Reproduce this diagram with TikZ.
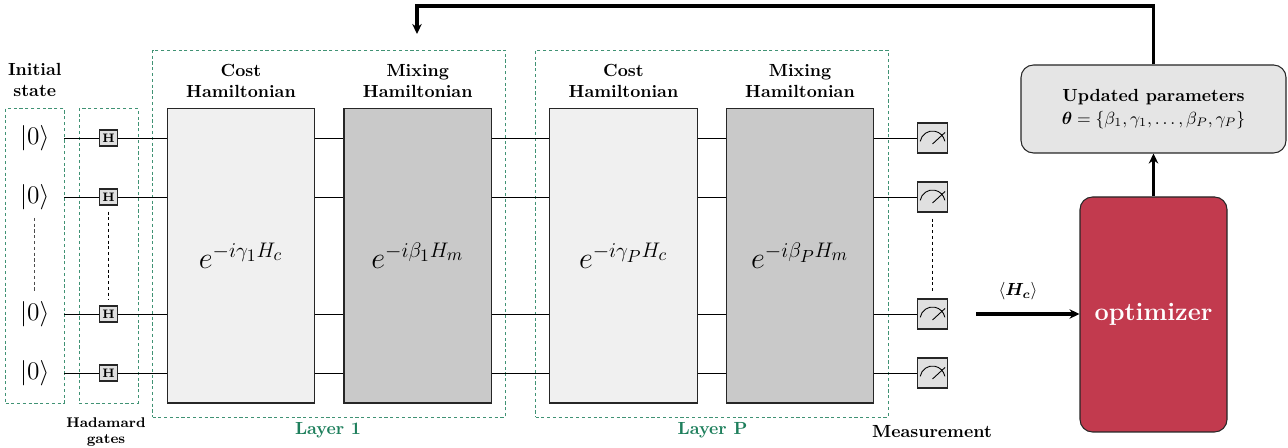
\documentclass[tikz,border=0pt]{standalone}
\usepackage{amsmath}
\usetikzlibrary{positioning,arrows.meta,calc}
\definecolor{layergreen}{HTML}{1E7F5C}
\definecolor{optred}{HTML}{C23A4E}
\tikzset{
  grp/.style={draw=layergreen!85, dash pattern=on 1.8pt off 1.5pt, line width=0.55pt, inner sep=0pt},
  costblk/.style={draw=black!85, fill=black!6, line width=0.7pt, minimum width=2.95cm, minimum height=5.89cm,
                  inner sep=0pt, font=\LARGE},
  mixblk/.style={costblk, fill=black!21},
  hgate/.style={draw=black!85, fill=black!12, line width=0.6pt, minimum width=0.37cm, minimum height=0.32cm,
                inner sep=0pt, font=\scriptsize\bfseries},
  meterblk/.style={draw=black!85, fill=black!12, line width=0.6pt, minimum size=0.6cm, inner sep=0pt},
  ketnd/.style={minimum width=1.17cm, minimum height=0.82cm, inner sep=0pt, font=\Large},
  ttl/.style={align=center, font=\bfseries, inner sep=0pt},
  wire/.style={line width=0.55pt},
  dotline/.style={dash pattern=on 1.8pt off 1.5pt, line width=0.5pt},
  flow/.style={-{Stealth[length=2mm,width=1.9mm]}, line width=1.8pt},
}

\begin{document}
\begin{tikzpicture}
    \useasboundingbox (0,0) rectangle (25.76,8.96);
    % dashed groups
    \node[grp, minimum width=1.17cm, minimum height=5.89cm] (initgrp) at (0.695,3.845) {};
    \node[grp, minimum width=1.18cm, minimum height=5.89cm] (hadgrp) at (2.17,3.845) {};
    \node[grp, minimum width=7.06cm, minimum height=7.34cm] (layerA) at (6.58,4.29) {};
    \node[grp, minimum width=7.05cm, minimum height=7.34cm] (layerB) at (14.235,4.29) {};
    % blocks
    \node[costblk] (costA) at (4.82,3.845) {$e^{-i\gamma_1 H_c}$};
    \node[mixblk] (mixA) at (8.355,3.845) {$e^{-i\beta_1 H_m}$};
    \node[costblk] (costB) at (12.47,3.845) {$e^{-i\gamma_P H_c}$};
    \node[mixblk] (mixB) at (16.0,3.845) {$e^{-i\beta_P H_m}$};
    % qubit lines
    \foreach \i/\y in {1/6.2,2/5.02,3/2.68,4/1.5} {
      \node[ketnd] (ket\i) at (0.695,\y) {$|0\rangle$};
      \node[hgate] (h\i) at (2.17,\y) {H};
      \node[meterblk] (m\i) at (18.65,\y) {};
      \draw[wire] (ket\i) -- (h\i);
      \draw[wire] (h\i) -- (h\i -| costA.west);
      \draw[wire] (h\i -| costA.east) -- (h\i -| mixA.west);
      \draw[wire] (h\i -| mixA.east) -- (h\i -| costB.west);
      \draw[wire] (h\i -| costB.east) -- (h\i -| mixB.west);
      \draw[wire] (h\i -| mixB.east) -- (m\i);
      \draw[line width=0.5pt] ($(m\i.center)+(-0.246,-0.067)$) arc[start angle=170, end angle=10, radius=0.25cm];
      \draw[line width=0.5pt] ($(m\i.center)+(0,-0.12)$) -- ($(m\i.center)+(0.25,0.11)$);
    }
    \draw[dotline, black!70, line width=0.8pt] (ket2) -- (ket3);
    \draw[dotline, shorten >=0.12cm, shorten <=0.12cm] (h2) -- (h3);
    \draw[dotline, shorten >=0.12cm, shorten <=0.12cm] (m2) -- (m3);
    % titles
    \node[ttl] (initlbl) at (0.695,7.36) {Initial\\state};
    \node[ttl, above=0.2cm of costA] (costAlbl) {Cost\\Hamiltonian};
    \node[ttl, above=0.2cm of mixA] (mixAlbl) {Mixing\\Hamiltonian};
    \node[ttl, above=0.2cm of costB] (costBlbl) {Cost\\Hamiltonian};
    \node[ttl, above=0.2cm of mixB] (mixBlbl) {Mixing\\Hamiltonian};
    \node[ttl, font=\footnotesize\bfseries] (hadlbl) at (2.12,0.32) {Hadamard\\gates};
    \node[ttl, text=layergreen] (layerAlbl) at (6.56,0.36) {Layer 1};
    \node[ttl, text=layergreen] (layerBlbl) at (14.25,0.36) {Layer P};
    \node[ttl] (measlbl) at (18.64,0.32) {Measurement};
    % optimizer loop
    \node[draw=black!85, fill=optred, rounded corners=0.25cm, line width=0.6pt, minimum width=2.94cm, minimum height=4.7cm,
          text=white, font=\Large\bfseries, inner sep=0pt] (opt) at (23.07,2.67) {optimizer};
    \node[draw=black!85, fill=black!10, rounded corners=0.25cm, line width=0.6pt, minimum width=5.3cm, minimum height=1.76cm,
          align=center, inner sep=0pt] (upd) at (23.07,6.78) {\textbf{Updated parameters}\\[1pt]$\boldsymbol{\theta}=\{\beta_1,\gamma_1,\dots,\beta_P,\gamma_P\}$};
    \coordinate (measout) at (19.52,2.68);
    \coordinate (fbtop) at (8.34,8.84);
    \coordinate (fbend) at (8.34,8.28);
    \draw[flow] (measout) -- (measout -| opt.west);
    \node[inner sep=0pt] (expval) at (20.36,3.14) {$\langle\boldsymbol{H_c}\rangle$};
    \draw[flow] (opt.north) -- (upd.south);
    \draw[flow] (upd.north) |- (fbtop) -- (fbend);
  \end{tikzpicture}
\end{document}
